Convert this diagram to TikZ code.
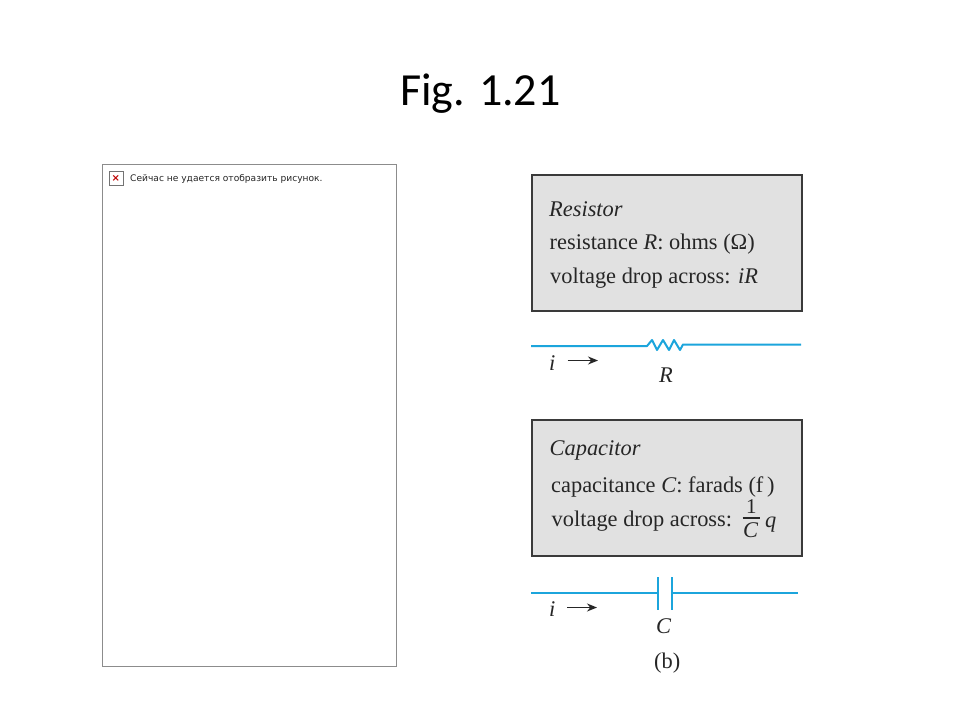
\documentclass[tikz,border=0pt]{standalone}
\usepackage{fontspec}
\setmainfont{Liberation Serif}
\newfontfamily\titlefont{Carlito}
\newfontfamily\uifont{DejaVu Sans}
\usetikzlibrary{arrows.meta}
\definecolor{wire}{HTML}{1CA5DC}
\definecolor{boxfill}{HTML}{E1E1E1}
\definecolor{boxline}{HTML}{3A3A3A}
\definecolor{inktext}{HTML}{262626}
\tikzset{
  x=1pt,y=-1pt,
  panel/.style={draw=boxline,fill=boxfill,line width=2pt,minimum width=269.5pt,minimum height=136pt,inner sep=0pt,anchor=north west},
  booktext/.style={anchor=base west,inner sep=0pt,text=inktext,font=\fontsize{22.4}{23}\selectfont},
  wireline/.style={draw=wire,line width=2pt},
  currentarrow/.style={draw=inktext,line width=1.3pt,-{Stealth[length=10pt,width=8pt]}},
}
\begin{document}
\begin{tikzpicture}
\useasboundingbox (0,0) rectangle (960,720);
\fill[white] (0,0) rectangle (960,720);
\node[anchor=base,inner sep=0pt,font=\titlefont\fontsize{46}{46}\selectfont,text=black] (title) at (480.5,105) {Fig. 1.21};
% broken picture placeholder
\node[draw=black!45,fill=white,line width=0.7pt,minimum width=294pt,minimum height=502pt,inner sep=0pt,anchor=north west] (frame) at (101.8,164) {};
\node[draw=black!55,fill=white,line width=0.7pt,minimum size=14pt,inner sep=0pt,anchor=north west] (icon) at (108.5,171) {};
\node[inner sep=0pt,text=red!75!black,font=\bfseries\fontsize{10}{10}\selectfont\uifont] (iconx) at (icon.center) {×};
\node[anchor=base west,inner sep=0pt,font=\uifont\fontsize{9.1}{9.1}\selectfont,text=black!85] (msg) at (130,181) {Сейчас не удается отобразить рисунок.};
% Resistor
\node[panel] (rbox) at (531,174) {};
\node[booktext] (r1) at (549,216) {\itshape Resistor};
\node[booktext] (r2) at (549.5,249) {resistance \textit{R}: ohms (Ω)};
\node[booktext] (r3) at (550,283) {voltage drop across: \textit{iR}};
\coordinate (wa) at (531,346);
\coordinate (wb) at (647,346);
\coordinate (wc) at (683,344.5);
\coordinate (wd) at (801,344.5);
\draw[wireline,line join=round] (wa) -- (wb) -- (652,340) -- (657,350) -- (663,340) -- (669,350) -- (674,340) -- (680,350) -- (wc) -- (wd);
\node[booktext] (ri) at (549,370) {\itshape i};
\coordinate (ra1) at (567.5,360.5);
\coordinate (ra2) at (598,360.5);
\draw[currentarrow] (ra1) -- (ra2);
\node[booktext] (rl) at (659,382) {\itshape R};
% Capacitor
\node[panel] (cbox) at (531,419) {};
\node[booktext] (c1) at (549.5,455) {\itshape Capacitor};
\node[booktext] (c2) at (551,492) {capacitance \textit{C}: farads (f\,)};
\node[booktext] (c3) at (551.5,526) {voltage drop across:};
\node[booktext,font=\fontsize{21}{21}\selectfont] (cn) at (746,513.5) {1};
\node[booktext] (cd) at (743,537) {\itshape C};
\coordinate (fa) at (742.5,518);
\coordinate (fb) at (760,518);
\draw[draw=inktext,line width=1.2pt] (fa) -- (fb);
\node[booktext] (cq) at (765,527) {\itshape q};
\coordinate (pa) at (658,593);
\coordinate (pb) at (672,593);
\coordinate (wl) at (531,593);
\coordinate (wr) at (798,593);
\draw[wireline] (wl) -- (pa);
\draw[wireline] (pb) -- (wr);
\draw[wireline] (658,577) -- (658,610);
\draw[wireline] (672,577) -- (672,610);
\node[booktext] (ci) at (549,616) {\itshape i};
\coordinate (ca1) at (567,607.5);
\coordinate (ca2) at (597,607.5);
\draw[currentarrow] (ca1) -- (ca2);
\node[booktext] (cl) at (656,633) {\itshape C};
\node[booktext] (fig) at (654,668) {(b)};
\end{tikzpicture}
\end{document}
